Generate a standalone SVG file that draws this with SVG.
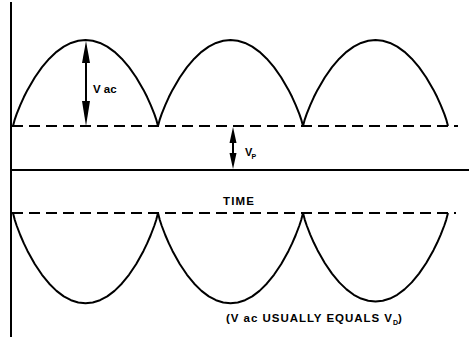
<svg xmlns="http://www.w3.org/2000/svg" width="469" height="339" viewBox="0 0 469 339">
<style>
.ln{stroke:#000;stroke-width:2;fill:none}
.dash{stroke:#000;stroke-width:2;fill:none;stroke-dasharray:11 6}
.wave{stroke:#000;stroke-width:2;fill:none;stroke-linejoin:round}
.ah{fill:#000;stroke:none}
.t{font-family:"Liberation Sans",Arial,Helvetica,sans-serif;font-weight:bold;fill:#000}
</style>
<defs>
<path id="arc" class="wave" vector-effect="non-scaling-stroke" d="M-72.5,0 L-70.69,-6.67 L-68.88,-11.89 L-65.25,-20.96 L-61.63,-28.93 L-58,-36.09 L-50.75,-48.52 L-43.5,-58.85 L-36.25,-67.34 L-29,-74.15 L-21.75,-79.38 L-14.5,-83.07 L-7.25,-85.27 L0,-86 L7.25,-85.27 L14.5,-83.07 L21.75,-79.38 L29,-74.15 L36.25,-67.34 L43.5,-58.85 L50.75,-48.52 L58,-36.09 L61.63,-28.93 L65.25,-20.96 L68.88,-11.89 L70.69,-6.67 L72.5,0"/>
</defs>
<rect width="469" height="339" fill="#fff"/>
<g id="axes">
<line class="ln" x1="11" y1="2" x2="11" y2="337"/>
<line class="ln" x1="11" y1="170" x2="469" y2="170"/>
<line class="dash" x1="12" y1="126" x2="458" y2="126"/>
<line class="dash" x1="12" y1="213" x2="456" y2="213"/>
</g>
<g id="top-wave">
<use href="#arc" transform="translate(85.5,126)"/>
<use href="#arc" transform="translate(230.5,126)"/>
<use href="#arc" transform="translate(375.5,126)"/>
</g>
<g id="bottom-wave">
<use href="#arc" transform="translate(85.5,213) scale(1,-1.05)"/>
<use href="#arc" transform="translate(230.5,213) scale(1,-1.05)"/>
<use href="#arc" transform="translate(375.5,213) scale(1,-1.03)"/>
</g>
<g id="connectors">
<line class="ln" x1="86" y1="58" x2="86" y2="105"/>
<polygon class="ah" points="86,41 82,63 90,63"/>
<polygon class="ah" points="86,126 82,101 90,101"/>
<line class="ln" x1="233" y1="138" x2="233" y2="158"/>
<polygon class="ah" points="233,127 229.5,143 236.5,143"/>
<polygon class="ah" points="233,169 229.5,153 236.5,153"/>
</g>
<g id="label-vac">
<text class="t" x="93" y="93" font-size="11.5">V ac</text>
</g>
<g id="label-vp">
<text class="t" x="245" y="155.5" font-size="11">V</text>
<text class="t" x="251.5" y="158.5" font-size="7">P</text>
</g>
<g id="label-time">
<text class="t" x="223" y="205" font-size="11.5" textLength="31" lengthAdjust="spacing">TIME</text>
</g>
<g id="label-note">
<text class="t" x="226" y="322" font-size="11.5" textLength="166" lengthAdjust="spacing">(V ac USUALLY EQUALS V</text>
<text class="t" x="393" y="324.5" font-size="7">D</text>
<text class="t" x="398" y="322" font-size="11.5">)</text>
</g>
</svg>
